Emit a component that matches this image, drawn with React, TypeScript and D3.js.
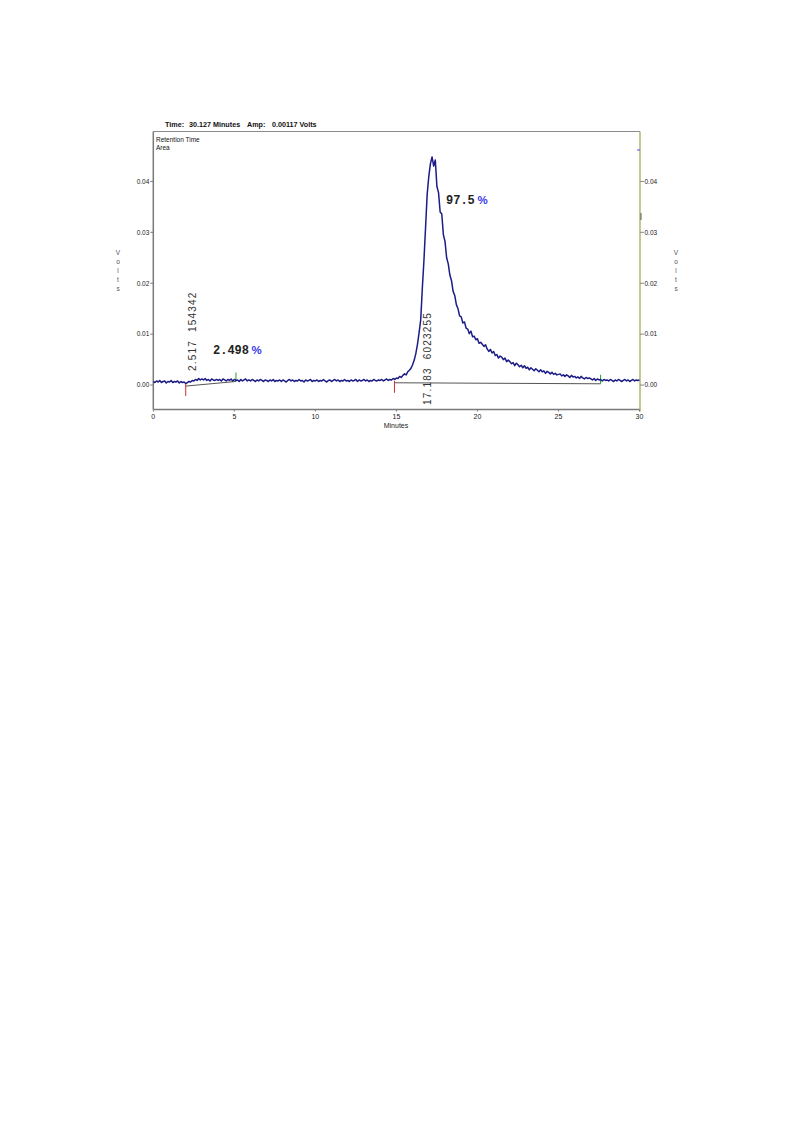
import React from 'react';
import * as d3 from 'd3';

// detector trace, mV, one row per minute, 0.1 min sampling
const sampleStep = 0.1;
const traceMv: number[][] = [
  [0.7, 0.5, 0.8, 0.6, 0.9, 0.5, 0.7, 0.8, 0.4, 0.7],
  [0.6, 0.9, 0.5, 0.7, 0.6, 0.8, 0.4, 0.7, 0.5, 0.6],
  [0.3, 0.5, 0.7, 0.6, 0.9, 0.8, 1.1, 0.9, 1.3, 1.0],
  [1.2, 1.0, 1.3, 0.9, 1.1, 0.8, 1.2, 1.0, 0.9, 1.1],
  [0.9, 1.1, 0.8, 1.2, 1.0, 0.8, 1.1, 0.9, 1.2, 0.8],
  [1.1, 0.9, 1.0, 0.7, 1.1, 0.8, 1.0, 1.2, 0.8, 1.0],
  [0.8, 1.1, 0.9, 0.7, 1.0, 0.8, 1.1, 0.9, 0.7, 1.0],
  [0.9, 0.7, 1.0, 0.8, 1.1, 0.7, 0.9, 0.8, 1.0, 0.7],
  [1.0, 0.8, 0.6, 0.9, 1.1, 0.8, 1.0, 0.7, 0.9, 0.8],
  [1.1, 0.8, 0.9, 0.6, 1.0, 0.8, 0.9, 1.1, 0.7, 0.9],
  [0.8, 1.0, 0.7, 0.9, 0.8, 1.1, 0.8, 0.6, 0.9, 1.0],
  [0.7, 0.9, 1.1, 0.8, 1.0, 0.7, 0.9, 0.8, 1.1, 0.8],
  [0.9, 0.7, 1.0, 0.8, 0.9, 1.1, 0.7, 1.0, 0.8, 0.9],
  [1.1, 0.8, 1.0, 0.7, 0.9, 0.8, 1.1, 0.9, 0.8, 1.0],
  [0.9, 1.1, 0.8, 1.0, 1.2, 0.9, 1.1, 1.0, 1.3, 1.1],
  [1.4, 1.3, 1.7, 1.5, 1.9, 2.2, 2.0, 2.6, 2.9, 3.3],
  [4.0, 4.9, 6.2, 8.0, 10.3, 12.8, 19.0, 24.5, 31.0, 37.5],
  [41.0, 43.5, 44.8, 43.0, 44.2, 39.0, 37.8, 34.0, 33.6, 29.5],
  [28.2, 25.0, 23.8, 21.6, 20.5, 18.4, 17.6, 15.8, 15.0, 13.6],
  [13.4, 12.2, 12.4, 11.2, 11.0, 10.1, 10.6, 9.5, 9.6, 8.9],
  [9.1, 8.2, 8.4, 8.0, 7.6, 7.9, 7.1, 6.6, 7.0, 6.3],
  [6.6, 5.8, 6.0, 5.3, 5.7, 5.5, 5.0, 5.3, 4.6, 4.9],
  [4.6, 4.2, 4.4, 3.8, 4.3, 4.0, 3.6, 3.9, 3.4, 3.8],
  [3.3, 3.5, 3.0, 3.4, 3.1, 2.8, 3.2, 2.9, 2.6, 3.0],
  [2.6, 2.8, 2.3, 2.7, 2.5, 2.2, 2.5, 2.1, 2.3, 2.0],
  [2.1, 2.2, 1.8, 2.0, 1.7, 2.0, 1.8, 1.5, 1.9, 1.6],
  [1.7, 1.4, 1.6, 1.3, 1.7, 1.4, 1.2, 1.5, 1.3, 1.4],
  [1.2, 1.0, 1.3, 0.9, 1.2, 1.0, 1.1, 0.8, 1.1, 0.9],
  [1.0, 0.8, 1.1, 0.9, 0.7, 1.0, 0.8, 1.1, 0.9, 0.7],
  [0.9, 1.1, 0.8, 1.0, 0.7, 0.9, 1.1, 0.8, 1.0, 0.9],
  [1.0],
];

const xTicks = [0, 5, 10, 15, 20, 25, 30];
const yTicks = [0, 0.01, 0.02, 0.03, 0.04];
const yTickLabels = ['0.00', '0.01', '0.02', '0.03', '0.04'];

// integration baselines: start (red) and end (green) markers
const baselines = [
  { start: 2.0, startV: -0.0002, end: 5.1, endV: 0.0007 },
  { start: 14.88, startV: 0.00045, end: 27.6, endV: 0.00025 },
];

const peakRt = ['2.517', '17.183'];
const peakArea = ['154342', '6023255'];
const peakPct = ['2.498', '97.5'];

// pixel placement of peak annotations
const rtLabelPos = [
  { x: 196, y: 371 },
  { x: 431, y: 405 },
];
const pctLabelPos = [
  { x: 213, y: 354, pctX: 251.5 },
  { x: 446, y: 204, pctX: 477.5 },
];

const font = 'Liberation Sans, Arial, sans-serif';

const App: React.FC = () => {
  const left = 153.3;
  const right = 640;
  const top = 131.5;
  const bottom = 409.5;

  const x = d3.scaleLinear().domain([0, 30]).range([left, right - 0.5]);
  const y = d3.scaleLinear().domain([-0.0048, 0.0498]).range([bottom, top]);

  const points: [number, number][] = traceMv
    .flat()
    .map((mv, i) => [i * sampleStep, mv / 1000]);

  const line = d3
    .line<[number, number]>()
    .x(d => x(d[0]))
    .y(d => y(d[1]));

  const voltsLetters = ['V', 'o', 'l', 't', 's'];

  return (
    <svg
      width={793}
      height={1123}
      style={{ position: 'absolute', left: 0, top: 0, background: '#fff' }}
    >
      {/* header */}
      <g fontFamily={font} fontSize={7.2} fontWeight={600} fill="#111">
        <text x={165} y={127}>Time:</text>
        <text x={189} y={127}>30.127 Minutes</text>
        <text x={247} y={127}>Amp:</text>
        <text x={272} y={127}>0.00117 Volts</text>
      </g>
      <g fontFamily={font} fontSize={6.5} fill="#111">
        <text x={156} y={142}>Retention Time</text>
        <text x={156} y={150}>Area</text>
      </g>

      {/* frame */}
      <line x1={left} x2={right} y1={top} y2={top} stroke="#8a8a8a" strokeWidth={1} />
      <line x1={left} x2={left} y1={top} y2={bottom} stroke="#7a7a7a" strokeWidth={1.5} />
      <line x1={left} x2={right} y1={bottom} y2={bottom} stroke="#7a7a7a" strokeWidth={1.5} />
      <line x1={right} x2={right} y1={top} y2={bottom + 2} stroke="#b4b46e" strokeWidth={1.5} />

      {/* x axis */}
      <g fontFamily={font} fontSize={7} fill="#222" textAnchor="middle">
        {xTicks.map(t => (
          <g key={t}>
            <line x1={x(t)} x2={x(t)} y1={bottom} y2={bottom + 2} stroke="#7a7a7a" />
            <text x={x(t)} y={bottom + 9}>{t}</text>
          </g>
        ))}
        <text x={396} y={428}>Minutes</text>
      </g>

      {/* y axes */}
      <g fontFamily={font} fontSize={6.5} fill="#222">
        {yTicks.map((v, i) => (
          <g key={v}>
            <line x1={left - 3} x2={left} y1={y(v)} y2={y(v)} stroke="#7a7a7a" />
            <text x={left - 4} y={y(v) + 2.3} textAnchor="end">{yTickLabels[i]}</text>
            <line x1={right} x2={right + 4} y1={y(v)} y2={y(v)} stroke="#888" />
            <text x={right + 4.5} y={y(v) + 2.3}>{yTickLabels[i]}</text>
          </g>
        ))}
        {voltsLetters.map((c, i) => (
          <g key={i} fill="#555">
            <text x={118} y={255 + i * 9} textAnchor="middle">{c}</text>
            <text x={676} y={255 + i * 9} textAnchor="middle">{c}</text>
          </g>
        ))}
      </g>

      {/* baselines and markers */}
      {baselines.map((b, i) => (
        <g key={i}>
          <line
            x1={x(b.start)}
            x2={x(b.end)}
            y1={y(b.startV)}
            y2={y(b.endV)}
            stroke="#555"
            strokeWidth={1}
          />
          <line
            x1={x(b.start)}
            x2={x(b.start)}
            y1={y(b.startV) - 2}
            y2={y(b.startV) + 10}
            stroke="#d03030"
            strokeWidth={1}
          />
          <line
            x1={x(b.end)}
            x2={x(b.end)}
            y1={y(b.endV) - 9}
            y2={y(b.endV)}
            stroke="#20a020"
            strokeWidth={1}
          />
        </g>
      ))}

      {/* trace */}
      <path
        d={line(points) || ''}
        fill="none"
        stroke="#1c1c86"
        strokeWidth={1.5}
        strokeLinejoin="round"
      />

      {/* peak annotations */}
      {peakRt.map((rt, i) => (
        <text
          key={rt}
          transform={`translate(${rtLabelPos[i].x},${rtLabelPos[i].y}) rotate(-90)`}
          fontFamily={font}
          fontSize={10}
          letterSpacing={1.2}
          fill="#333"
          style={{ whiteSpace: 'pre' }}
        >
          {`${rt}  ${peakArea[i]}`}
        </text>
      ))}
      {peakPct.map((p, i) => (
        <g key={p}>
          <text
            x={pctLabelPos[i].x}
            y={pctLabelPos[i].y}
            fontFamily="Liberation Mono, Courier New, monospace"
            fontWeight="bold"
            fontSize={12}
            fill="#222"
          >
            {p}
          </text>
          <text
            x={pctLabelPos[i].pctX}
            y={pctLabelPos[i].y}
            fontFamily={font}
            fontWeight="bold"
            fontSize={11.5}
            fill="#3a3aee"
          >
            %
          </text>
        </g>
      ))}

      {/* cursor marks on right axis */}
      <line x1={right - 3} x2={right} y1={150} y2={150} stroke="#4a4af0" strokeWidth={1} />
      <line x1={right + 1} x2={right + 1} y1={213} y2={220} stroke="#555" strokeWidth={1} />
    </svg>
  );
};

export default App;
